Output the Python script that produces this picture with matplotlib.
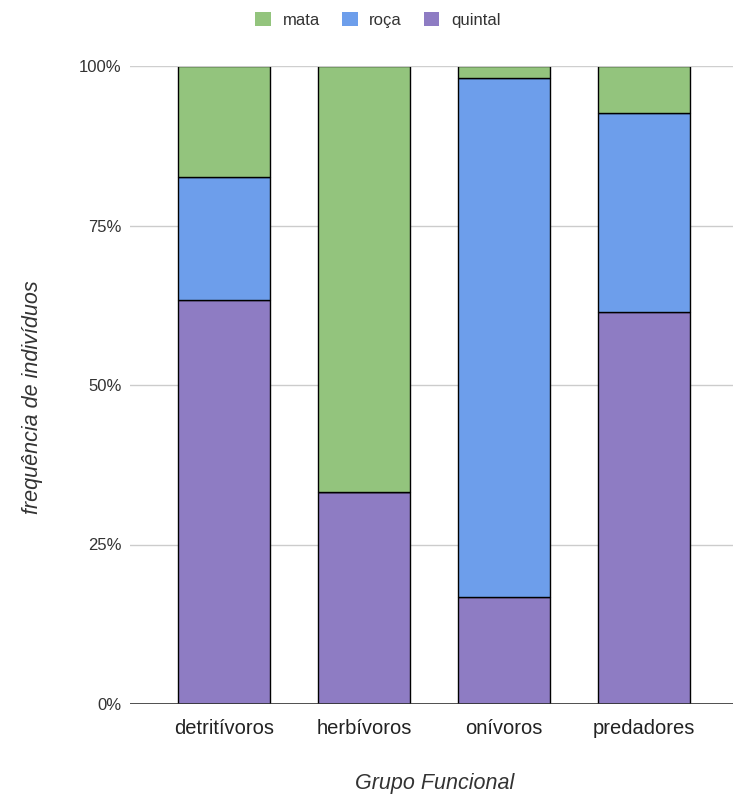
import numpy as np
import matplotlib.pyplot as plt
from matplotlib.patches import Patch

groups = ['detritívoros', 'herbívoros', 'onívoros', 'predadores']
quintal = [63.3, 33.2, 16.8, 61.4]
roca = [19.3, 0.0, 81.3, 31.3]
mata = [17.4, 66.8, 1.9, 7.3]

C_MATA, C_ROCA, C_QUINTAL = '#93c47d', '#6d9eeb', '#8e7cc3'

plt.rcParams['font.family'] = ['Liberation Sans', 'DejaVu Sans']

fig = plt.figure(figsize=(7.33, 8.01), dpi=100)
ax = fig.add_axes([130/733, 1 - 704/801, 1 - 130/733, (704 - 66)/801])

x = np.arange(len(groups))
w = 92/140
q = np.array(quintal); r = np.array(roca); m = np.array(mata)
ax.bar(x, q, w, color=C_QUINTAL, edgecolor='black', linewidth=1, zorder=3)
ax.bar(x, r, w, bottom=q, color=C_ROCA, edgecolor='black', linewidth=1, zorder=3)
ax.bar(x, m, w, bottom=q + r, color=C_MATA, edgecolor='black', linewidth=1, zorder=3)

ax.set_xlim((130 - 224)/140, (733 - 224)/140)
ax.set_ylim(0, 100)
ax.set_yticks([0, 25, 50, 75, 100])
ax.set_yticklabels(['0%', '25%', '50%', '75%', '100%'], fontsize=12, color='#333333')
ax.set_xticks(x)
ax.set_xticklabels(groups, fontsize=14.5, color='#222222')
ax.tick_params(length=0)
ax.tick_params(axis='y', pad=6)
ax.tick_params(axis='x', pad=11)
ax.yaxis.grid(True, color='#cccccc', linewidth=1, zorder=0)
for s in ax.spines.values():
    s.set_visible(False)
ax.axhline(0, color='#333333', linewidth=1.2, zorder=4)
ax.axhline(100, color='#d0d0d0', linewidth=1.4, zorder=4)

fig.text(33/733, 1 - 397/801, 'frequência de indivíduos', rotation=90, style='italic',
         fontsize=15.5, color='#333333', ha='center', va='center')
fig.text(435/733, 1 - 783/801, 'Grupo Funcional', style='italic',
         fontsize=15.5, color='#333333', ha='center', va='center')

handles = [Patch(facecolor=C_MATA, label='mata'),
           Patch(facecolor=C_ROCA, label='roça'),
           Patch(facecolor=C_QUINTAL, label='quintal')]
fig.legend(handles=handles, loc='center', bbox_to_anchor=(378/733, 1 - 20/801), ncol=3,
           frameon=False, fontsize=12, handlelength=0.95, handleheight=0.85,
           handletextpad=0.7, columnspacing=1.3, labelcolor='#333333')

fig.savefig('out.png', dpi=100)
